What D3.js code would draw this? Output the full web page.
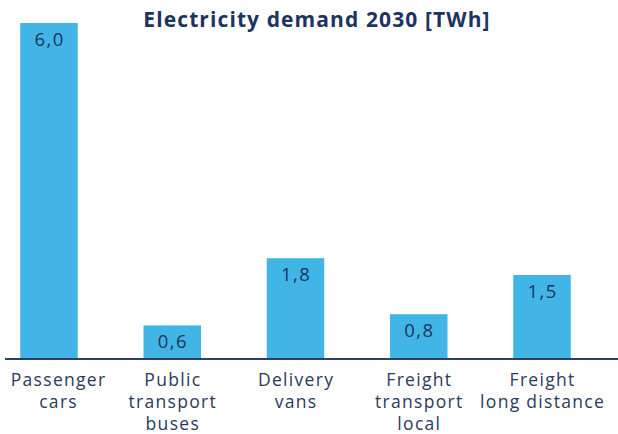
<!DOCTYPE html>
<meta charset="utf-8">
<style>
  body { margin: 0; background: #fff; }
  text { font-family: "Open Sans", sans-serif; }
</style>
<body>
<div class="chart"></div>
<script src="https://d3js.org/d3.v7.min.js"></script>
<script>
    // data
    const categories = ["Passenger cars", "Public transport buses", "Delivery vans", "Freight transport local", "Freight long distance"];
    const labelLines = [["Passenger", "cars"], ["Public", "transport", "buses"], ["Delivery", "vans"], ["Freight", "transport", "local"], ["Freight", "long distance"]];
    const demand = [6.0, 0.6, 1.8, 0.8, 1.5];
    const title = "Electricity demand 2030 [TWh]";

    const width = 618, height = 434;
    const baseY = 359;
    const barColor = "#41b6e6", ink = "#1d3360", labelInk = "#2a3a5e";

    let svg = d3.select(".chart").append("svg")
        .attr("width", width)
        .attr("height", height);

    let x = d3.scalePoint()
        .domain(categories)
        .range([49, 542]);
    let barW = 57.5;

    let y = d3.scaleLinear()
        .domain([0, 6])
        .range([baseY, 23]);

    svg.append("text")
        .attr("x", 317)
        .attr("y", 27)
        .attr("text-anchor", "middle")
        .attr("font-size", "21px")
        .attr("font-weight", 700)
        .attr("letter-spacing", "1.1px")
        .attr("fill", ink)
        .text(title);

    svg.append("g")
        .selectAll("rect")
        .data(demand)
        .join("rect")
        .attr("x", (d, i) => x(categories[i]) - barW / 2)
        .attr("y", d => y(d))
        .attr("width", barW)
        .attr("height", d => baseY - y(d))
        .attr("fill", barColor);

    svg.append("g")
        .selectAll("text")
        .data(demand)
        .join("text")
        .attr("x", (d, i) => x(categories[i]) + 0.7)
        .attr("y", d => y(d) + 23)
        .attr("text-anchor", "middle")
        .attr("font-size", "18.5px")
        .attr("letter-spacing", "1.4px")
        .attr("fill", ink)
        .text(d => d3.format(".1f")(d).replace(".", ","));

    svg.append("line")
        .attr("x1", 5).attr("x2", width)
        .attr("y1", baseY).attr("y2", baseY)
        .attr("stroke", "#2c4066")
        .attr("stroke-width", 2);

    // category labels, wrapped like the original
    let lab = svg.append("g")
        .selectAll("text")
        .data(categories)
        .join("text")
        .attr("x", (d, i) => Math.max(x(d), 58) + 0.6)
        .attr("text-anchor", "middle")
        .attr("font-size", "17.5px")
        .attr("letter-spacing", "1.3px")
        .attr("fill", labelInk);
    lab.each(function (d, i) {
        d3.select(this).selectAll("tspan")
            .data(labelLines[i])
            .join("tspan")
            .attr("x", d3.select(this).attr("x"))
            .attr("y", (t, j) => 386 + j * 22)
            .text(t => t);
    });
</script>
</body>
